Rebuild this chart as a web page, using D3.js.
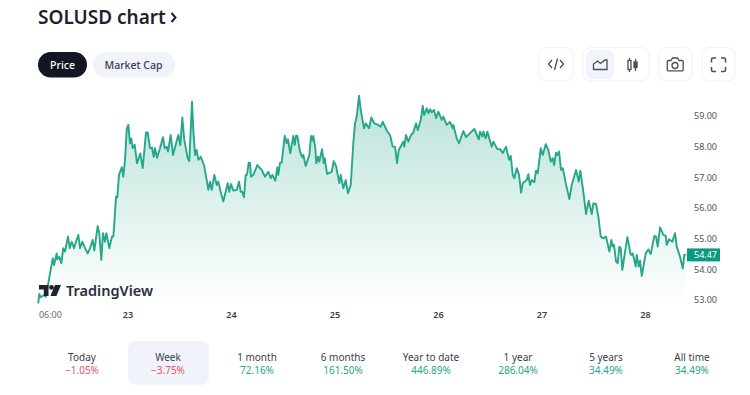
<!DOCTYPE html>
<html>
<head>
<meta charset="utf-8">
<script src="https://cdn.jsdelivr.net/npm/d3@7"></script>
<style>
    html, body { margin: 0; padding: 0; background: #fff; }
    svg { display: block; font-family: "Noto Sans", sans-serif; }
</style>
</head>
<body>
<svg id="chartsvg" width="750" height="395"></svg>
<script>
// hours since 00:00 of the 22nd
const hours = [3.3,3.55,3.87,4.8,5.03,5.64,6.66,6.96,7.58,7.72,8.19,8.65,9.11,9.51,10.2,10.6,11.06,11.6,12.06,12.59,12.99,13.52,14.15,14.77,15.31,15.93,16.3,17.09,17.46,17.93,18.32,18.78,19.09,19.78,20.41,20.71,20.87,21.34,21.64,22.03,22.66,23.03,23.42,23.82,24.19,24.58,24.88,25.21,25.67,26.2,26.97,27.53,28.29,28.69,29.22,29.68,30.08,30.38,30.84,31.54,32.23,32.63,33.09,33.39,34.02,34.55,35.78,36.25,36.71,37.17,37.96,38.33,38.96,39.26,39.66,40.05,40.42,40.98,41.74,42.37,42.74,43.13,43.53,44.13,44.69,45.06,45.68,46.22,47.24,47.61,48,48.54,49.33,49.86,50.25,50.62,51.02,51.41,51.71,52.11,52.41,52.64,53.18,54.1,55.12,55.89,56.65,57.21,57.58,58.28,58.74,58.97,59.37,59.76,60.46,60.92,61.22,61.75,62.45,62.78,63.08,63.38,64,64.54,64.77,65.33,66.16,66.56,66.86,67.09,67.55,67.78,68.18,68.48,69.11,69.5,69.73,70.27,71.36,71.82,72.35,73.12,73.44,74.05,74.6,75.14,75.76,76.36,76.76,77.15,77.69,78.08,78.85,79.24,80.01,80.54,81.23,82.16,82.72,83.18,83.72,84.25,84.88,85.5,86.04,86.5,86.9,87.96,88.19,88.59,89.12,89.75,90.28,90.91,91.3,92,92.46,92.76,93.39,93.76,94.15,94.55,95.08,95.54,96.08,96.87,97.24,98.03,98.79,99.42,99.56,100.34,100.88,101.88,102.5,103.43,104.43,105.45,105.75,106.28,106.51,107.07,107.44,108.46,108.83,109.76,110.4,111,111.78,112.47,112.87,113.33,113.7,114.26,114.79,115.26,115.65,116.58,116.95,117.34,117.74,118.34,118.73,119.13,119.82,120.29,120.98,121.59,122.14,122.61,122.91,123.37,123.68,124.07,124.53,124.93,125.62,126.46,127.01,128.01,128.64,129,129.7,130.33,130.95,131.65,132.02,132.65,133.18,133.74,134.34,134.96,135.74,136.2,136.52,136.82,137.29,137.68,138.05,138.37,138.75,139.14,139.91,140.69,141.16,141.85,142.08,142.55,142.85,143.25,144.17,144.78,145.33,146.17,146.56,146.95,147.49,148.26,148.81,149.04,149.58,150.34,150.97,151.36,152.13,152.75,153.12,153.52];
const prices = [52.89,53.2,53.09,53.17,53.1,53.55,54.36,54.14,54.52,54.33,54.41,54.2,54.69,54.58,55.07,54.69,54.9,54.69,54.9,55.12,54.69,54.9,54.69,54.52,54.69,54.96,54.61,55.41,55.18,54.31,55.18,54.9,55.18,54.69,55.07,55.07,55.35,56.37,56.35,57.08,57.33,57.02,57.57,58.57,58.71,58.11,58.27,57.95,58.06,57.46,57.78,57.3,58.46,58.46,57.95,57.97,57.67,57.95,57.64,57.95,58.31,57.95,58,57.84,58.38,57.73,58.38,58.05,58.95,58.22,57.62,57.53,59.47,58.54,57.73,57.89,57.57,57.67,57.4,56.91,56.59,56.86,56.59,57.08,56.75,56.86,56.48,56.21,56.81,56.53,56.78,56.57,56.59,56.86,56.53,56.53,56.35,57.08,57.08,57.48,57.47,57.02,57.08,57.4,57.24,57.02,57.18,56.97,57.08,56.89,57.33,57.08,57.48,57.48,58.36,58.11,58.24,57.78,58.35,58.05,58.36,58.35,57.84,57.65,57.73,57.37,57.73,58.35,58.2,58.35,57.95,57.46,57.67,57.51,57.92,57.46,57.62,57.11,57.18,57.53,57.37,56.81,57.08,56.64,56.91,56.48,56.75,58.11,58.76,58.98,59.66,59.2,58.6,58.76,58.6,58.95,58.76,58.71,58.65,58.81,58.65,58.49,58.38,58,58,57.46,57.89,58.16,58,58.38,58.16,58.38,58.46,58.76,58.54,58.87,59.33,59.03,59.25,59.09,59.22,59.12,59.2,58.93,59.14,58.87,58.98,58.71,58.81,58.6,58.71,58.27,58.11,58.51,58.31,58.44,58.58,58.24,58.49,58.33,58.49,58.27,58.49,58,58.16,57.92,57.92,57.79,58,57.57,57.7,57.08,56.97,57.3,57.08,56.5,56.81,56.91,57.1,56.75,56.91,56.84,57.22,57.13,57.95,57.73,58.08,57.89,57.51,57.62,57.4,57.8,57.73,57.84,57.24,57.3,56.81,56.29,56.75,57.24,56.86,57.22,56.53,55.8,56.24,55.8,56.15,56.13,55.72,55.07,55.01,55.07,54.58,54.96,54.74,54.8,54.25,54.2,54.74,54.69,53.98,54.36,55.05,54.47,54.52,54.09,54.47,54.09,54.28,53.79,54.52,54.65,54.5,55.09,55.07,54.74,55.37,55.12,55.09,54.8,54.98,54.9,55.18,54.74,54.41,54.03,54.47,54.47];
const lastPrice = 54.47;

const priceTicks = [53, 54, 55, 56, 57, 58, 59];
const timeTicks = [6, 24, 48, 72, 96, 120, 144];
const timeLabels = ["06:00", "23", "24", "25", "26", "27", "28"];

const periodNames = ["Today", "Week", "1 month", "6 months", "Year to date", "1 year", "5 years", "All time"];
const periodChanges = ["\u22121.05%", "\u22123.75%", "72.16%", "161.50%", "446.89%", "286.04%", "34.49%", "34.49%"];
const periodCenters = [82, 168, 257, 343, 431, 518, 606, 692];

const GREEN = "#26a68a";
const RED = "#ef4f66";
const DARK = "#131722";

const svg = d3.select("#chartsvg");

// Header
svg.append("text").attr("x", 38).attr("y", 24)
    .attr("font-size", 19).attr("font-weight", 600).attr("fill", "#1e222d")
    .text("SOLUSD chart");
svg.append("path").attr("d", "M171.500 13l4 4.500-4 4.500")
    .attr("fill", "none").attr("stroke", "#1e222d").attr("stroke-width", 2);

// Price / Market Cap pills
svg.append("rect").attr("x", 38).attr("y", 52).attr("width", 49).attr("height", 25.5).attr("rx", 12.7).attr("fill", DARK);
svg.append("text").attr("x", 62.5).attr("y", 68.500).attr("text-anchor", "middle")
    .attr("font-size", 10.500).attr("font-weight", 500).attr("fill", "#fff").text("Price");
svg.append("rect").attr("x", 93).attr("y", 52).attr("width", 82).attr("height", 25.5).attr("rx", 12.7).attr("fill", "#f0f3fa");
svg.append("text").attr("x", 133.5).attr("y", 68.500).attr("text-anchor", "middle")
    .attr("font-size", 10.500).attr("font-weight", 500).attr("fill", "#3a3e4a").text("Market Cap");

// Toolbar
function toolBox(x, w) {
    svg.append("rect").attr("x", x).attr("y", 47.5).attr("width", w).attr("height", 33.5).attr("rx", 8)
        .attr("fill", "#fff").attr("stroke", "#f0f1f5");
}
toolBox(539, 34);
toolBox(583, 66);
toolBox(659, 33);
toolBox(702, 33);
svg.append("rect").attr("x", 586).attr("y", 50).attr("width", 28).attr("height", 29).attr("rx", 6).attr("fill", "#f0f3fa");

const icons = svg.append("g").attr("fill", "none").attr("stroke", "#4a4e59").attr("stroke-width", 1.3);
icons.append("path").attr("d", "M552 60l-3.5 4 3.5 4M560 60l3.5 4-3.5 4M557.5 58.5l-3 11.5");
icons.append("path").attr("d", "M593.5 69.5v-5.5l4-3 3 2.5 4.5-3.5 2 0v9.5z");
icons.append("path").attr("d", "M629.500 58v14M635.500 59v12");
icons.append("rect").attr("x", 628).attr("y", 60.5).attr("width", 3).attr("height", 9).attr("fill", "#fff");
icons.append("rect").attr("x", 634).attr("y", 62).attr("width", 3).attr("height", 5.500).attr("fill", "#4a4e59");
icons.append("path").attr("d", "M668 60.5h3l1.5-2.5h5l1.5 2.5h3a1.2 1.2 0 0 1 1.2 1.2v8a1.2 1.2 0 0 1-1.2 1.2h-13.500a1.2 1.2 0 0 1-1.2-1.200v-8a1.2 1.200 0 0 1 1.200-1.200z");
icons.append("circle").attr("cx", 675).attr("cy", 65.500).attr("r", 3);
icons.append("path").attr("d", "M711.500 62.500v-3a1.500 1.500 0 0 1 1.500-1.500h3M721 58h3a1.500 1.500 0 0 1 1.500 1.500v3M725.500 67v3a1.500 1.500 0 0 1-1.500 1.500h-3M716 71.500h-3a1.500 1.500 0 0 1-1.500-1.500v-3")
    .attr("stroke-width", 1.5);

// Chart scales
const xScale = d3.scaleLinear().domain([24, 144]).range([127.5, 645]);
const yScale = d3.scaleLinear().domain([53, 59]).range([300, 116]);
const points = hours.map((h, i) => [h, prices[i]]);

const defs = svg.append("defs");
const grad = defs.append("linearGradient").attr("id", "areaFill")
    .attr("gradientUnits", "userSpaceOnUse")
    .attr("x1", 0).attr("x2", 0).attr("y1", yScale(d3.max(prices))).attr("y2", 304);
grad.append("stop").attr("offset", 0).attr("stop-color", GREEN).attr("stop-opacity", 0.32);
grad.append("stop").attr("offset", 1).attr("stop-color", GREEN).attr("stop-opacity", 0);

const area = d3.area()
    .x(d => xScale(d[0]))
    .y0(304)
    .y1(d => yScale(d[1]));
const line = d3.line()
    .x(d => xScale(d[0]))
    .y(d => yScale(d[1]));

svg.append("path").datum(points).attr("d", area).attr("fill", "url(#areaFill)");
svg.append("path").datum(points).attr("d", line)
    .attr("fill", "none").attr("stroke", GREEN).attr("stroke-width", 1.9).attr("stroke-linejoin", "round");

// Axes
const yAxis = svg.append("g")
    .attr("transform", "translate(694,0)")
    .call(d3.axisRight(yScale).tickValues(priceTicks).tickSize(0).tickPadding(0).tickFormat(d3.format(".2f")));
yAxis.select(".domain").remove();
yAxis.selectAll("text").attr("font-size", 9).attr("font-family", "'Noto Sans', sans-serif").attr("fill", "#50535e");

const xAxis = svg.append("g")
    .attr("transform", "translate(0,312)")
    .call(d3.axisBottom(xScale).tickValues(timeTicks).tickSize(0).tickPadding(0).tickFormat((d, i) => timeLabels[i]));
xAxis.select(".domain").remove();
xAxis.selectAll("text").attr("font-size", 9).attr("font-family", "'Noto Sans', sans-serif")
    .attr("font-weight", (d, i) => i === 0 ? 400 : 600)
    .attr("fill", (d, i) => i === 0 ? "#6a6d78" : "#3a3e4a");

// Last price badge
svg.append("rect").attr("x", 687).attr("y", yScale(lastPrice) - 6.500).attr("width", 33).attr("height", 13).attr("fill", "#0a9a80");
svg.append("text").attr("x", 694).attr("y", yScale(lastPrice) + 3.200)
    .attr("font-size", 9).attr("fill", "#fff").text(d3.format(".2f")(lastPrice));

// TradingView logo
const logo = svg.append("g").attr("fill", "#1e222d");
logo.append("path").attr("d", "M39 285h9.500v11h-4.700v-6.400h-4.800z");
logo.append("circle").attr("cx", 51.500).attr("cy", 287.400).attr("r", 2.400);
logo.append("path").attr("d", "M55 285h6l-4.600 11h-6z");
svg.append("text").attr("x", 66).attr("y", 296)
    .attr("font-size", 14.500).attr("font-weight", 600).attr("fill", "#2a2e39").text("TradingView");

// Performance row
svg.append("rect").attr("x", 128).attr("y", 341).attr("width", 81).attr("height", 44).attr("rx", 8).attr("fill", "#f0f3fa");
periodNames.forEach((name, i) => {
    svg.append("text").attr("x", periodCenters[i]).attr("y", 361).attr("text-anchor", "middle")
        .attr("font-size", 10).attr("fill", "#3a3e4a").text(name);
    svg.append("text").attr("x", periodCenters[i]).attr("y", 374).attr("text-anchor", "middle")
        .attr("font-size", 10).attr("fill", periodChanges[i].startsWith("\u2212") ? RED : GREEN).text(periodChanges[i]);
});
</script>
</body>
</html>
